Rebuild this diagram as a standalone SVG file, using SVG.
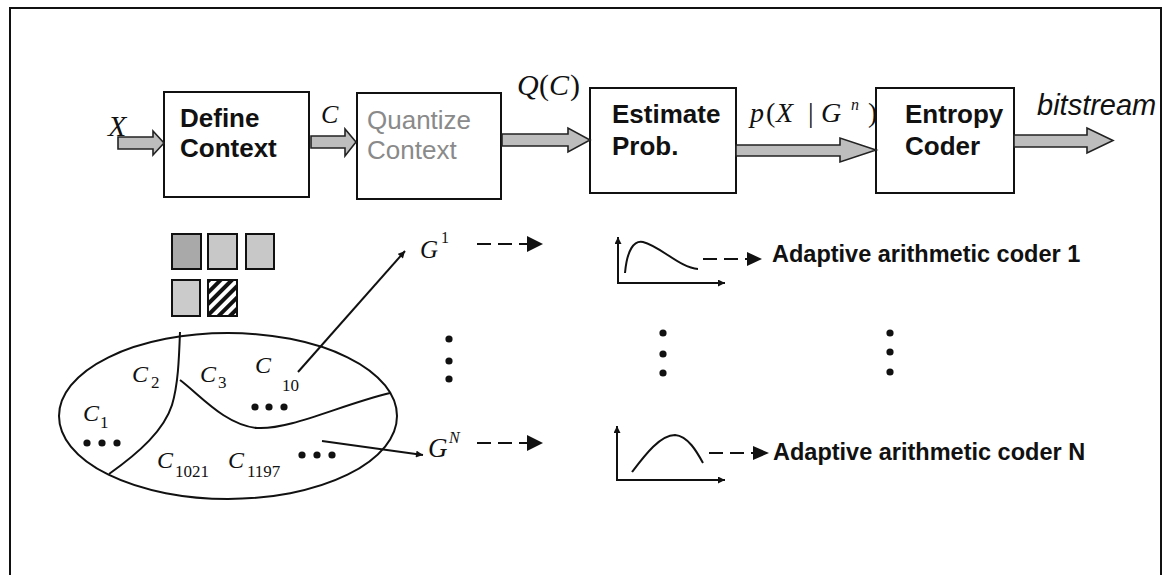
<svg xmlns="http://www.w3.org/2000/svg" width="1169" height="575" viewBox="0 0 1169 575">
<style>
.box{fill:#fff;stroke:#111;stroke-width:2}
.blk{fill:#bdbdbd;stroke:#222;stroke-width:1.6;stroke-linejoin:miter}
.bt{font-family:"Liberation Sans",Arial,sans-serif;font-weight:bold;font-size:26px;fill:#111}
.gt{font-family:"Liberation Sans",Arial,sans-serif;font-size:26px;fill:#8a8a8a}
.m{font-family:"Liberation Serif","Times New Roman",serif;font-style:italic;fill:#111}
.u{font-family:"Liberation Serif","Times New Roman",serif;fill:#111}
.ln{fill:none;stroke:#111;stroke-width:2}
.dash{fill:none;stroke:#111;stroke-width:2;stroke-dasharray:14 7}
.ac{font-family:"Liberation Sans",Arial,sans-serif;font-weight:bold;font-size:23.5px;fill:#111}
.dot{fill:#111}
</style>
<defs>
<marker id="ah" viewBox="0 0 10 10" refX="10" refY="5" markerWidth="8" markerHeight="7" markerUnits="userSpaceOnUse" orient="auto"><path d="M0,0 L10,5 L0,10 Z" fill="#111"/></marker>
<pattern id="hatch" width="8" height="8" patternUnits="userSpaceOnUse" patternTransform="rotate(45)"><rect width="8" height="8" fill="#fff"/><rect width="4" height="8" fill="#111"/></pattern>
</defs>

<path d="M10,580 V8 H1161 V580" fill="none" stroke="#111" stroke-width="2"/>

<g id="define-context"><rect class="box" x="164" y="92" width="145" height="105"/><text class="bt" x="180" y="127">Define</text><text class="bt" x="180" y="157">Context</text></g>
<g id="quantize-context"><rect class="box" x="357" y="93" width="144" height="106"/><text class="gt" x="367" y="129">Quantize</text><text class="gt" x="367" y="159">Context</text></g>
<g id="estimate-prob"><rect class="box" x="590" y="88" width="146" height="105"/><text class="bt" x="612" y="123">Estimate</text><text class="bt" x="612" y="155">Prob.</text></g>
<g id="entropy-coder"><rect class="box" x="876" y="88" width="138" height="105"/><text class="bt" x="905" y="123">Entropy</text><text class="bt" x="905" y="155">Coder</text></g>

<g id="connectors">
<path class="blk" d="M118,137 H153 V131 L164,143 L153,155 V149 H118 Z"/>
<path class="blk" d="M311,136 H345 V129 L356,142 L345,156 V148 H311 Z"/>
<path class="blk" d="M502,134 H568 V128 L590,140 L568,152 V146 H502 Z"/>
<path class="blk" d="M736,145 H840 V138 L876,150 L840,162 V156 H736 Z"/>
<path class="blk" d="M1014,135 H1087 V128 L1113,140.5 L1087,153 V147 H1014 Z"/>
<line class="ln" x1="298" y1="372" x2="405" y2="251" marker-end="url(#ah)"/>
<line class="ln" x1="322" y1="441" x2="423" y2="455" marker-end="url(#ah)"/>
<path d="M477,244 H528" class="dash"/><path d="M527,236 L543,244 L527,252 Z" fill="#111"/>
<path d="M477,443 H528" class="dash"/><path d="M527,435 L543,443 L527,451 Z" fill="#111"/>
</g>

<g id="labels">
<text class="m" x="108" y="136" font-size="30">X</text>
<text class="m" x="321" y="123" font-size="26">C</text>
<text x="517" y="95" font-size="30"><tspan class="m">Q</tspan><tspan class="u" x="539">(</tspan><tspan class="m" x="549">C</tspan><tspan class="u" x="570">)</tspan></text>
<text x="750" y="122" font-size="28"><tspan class="m">p</tspan><tspan class="u" x="766">(</tspan><tspan class="m" x="776">X</tspan><tspan class="u" x="808">|</tspan><tspan class="m" x="821">G</tspan><tspan class="m" x="851" y="110" font-size="16">n</tspan><tspan class="u" x="868" y="122">)</tspan></text>
<text x="1037" y="115" font-family="Liberation Sans,Arial,sans-serif" font-style="italic" font-size="29" fill="#111">bitstream</text>
</g>

<g id="context-squares">
<rect x="172" y="234" width="29" height="35" fill="#a9a9a9" stroke="#111" stroke-width="2"/>
<rect x="208" y="234" width="29" height="35" fill="#c8c8c8" stroke="#111" stroke-width="2"/>
<rect x="246" y="234" width="28" height="35" fill="#c8c8c8" stroke="#111" stroke-width="2"/>
<rect x="172" y="280" width="28" height="36" fill="#cbcbcb" stroke="#111" stroke-width="2"/>
<rect x="208" y="280" width="29" height="36" fill="url(#hatch)" stroke="#111" stroke-width="2"/>
</g>

<g id="context-set">
<ellipse class="ln" cx="228" cy="416" rx="169" ry="83"/>
<path class="ln" d="M180,332 C179,360 178,385 172,405 C164,430 140,452 109,474"/>
<path class="ln" d="M180,380 C200,395 225,425 257,428 C290,430 340,405 390,393"/>
<text class="m" x="132" y="382" font-size="24">C</text><text class="u" x="151" y="388" font-size="17">2</text>
<text class="m" x="200" y="382" font-size="24">C</text><text class="u" x="218" y="388" font-size="17">3</text>
<text class="m" x="255" y="373" font-size="24">C</text><text class="u" x="282" y="391" font-size="17">10</text>
<text class="m" x="83" y="421" font-size="24">C</text><text class="u" x="100" y="428" font-size="17">1</text>
<text class="m" x="157" y="468" font-size="24">C</text><text class="u" x="175" y="477" font-size="17">1021</text>
<text class="m" x="228" y="468" font-size="24">C</text><text class="u" x="247" y="477" font-size="17">1197</text>
<circle class="dot" cx="255" cy="407" r="3.6"/><circle class="dot" cx="269" cy="407" r="3.6"/><circle class="dot" cx="284" cy="407" r="3.6"/>
<circle class="dot" cx="87" cy="443" r="3.6"/><circle class="dot" cx="102" cy="443" r="3.6"/><circle class="dot" cx="117" cy="443" r="3.6"/>
<circle class="dot" cx="302" cy="455" r="3.6"/><circle class="dot" cx="317" cy="455" r="3.6"/><circle class="dot" cx="332" cy="455" r="3.6"/>
</g>

<g id="group-1"><text class="u" x="420" y="258" font-size="25"><tspan class="m">G</tspan></text><text class="u" x="441" y="243" font-size="16">1</text></g>
<g id="group-N"><text class="m" x="428" y="457" font-size="27">G</text><text class="m" x="449" y="443" font-size="16">N</text></g>

<g id="vdots">
<circle class="dot" cx="449" cy="339" r="3.6"/><circle class="dot" cx="449" cy="361" r="3.6"/><circle class="dot" cx="449" cy="379" r="3.6"/>
<circle class="dot" cx="663" cy="333" r="3.6"/><circle class="dot" cx="663" cy="354" r="3.6"/><circle class="dot" cx="663" cy="373" r="3.6"/>
<circle class="dot" cx="890" cy="333" r="3.6"/><circle class="dot" cx="890" cy="352" r="3.6"/><circle class="dot" cx="890" cy="372" r="3.6"/>
</g>

<g id="pdf-1">
<line class="ln" x1="618" y1="283" x2="618" y2="237" marker-end="url(#ah)"/>
<line class="ln" x1="617" y1="283" x2="725" y2="283" marker-end="url(#ah)"/>
<path class="ln" d="M625,273 C627,250 634,240 643,242 C660,246 680,268 698,269"/>
<path class="dash" d="M703,259 H747"/><path d="M747,252 L762,259 L747,266 Z" fill="#111"/>
<text class="ac" x="772" y="262">Adaptive arithmetic coder 1</text>
</g>

<g id="pdf-N">
<line class="ln" x1="617" y1="480" x2="617" y2="426" marker-end="url(#ah)"/>
<line class="ln" x1="616" y1="480" x2="725" y2="480" marker-end="url(#ah)"/>
<path class="ln" d="M632,472 C645,455 660,435 675,435 C688,436 697,452 703,463"/>
<path class="dash" d="M709,453 H753"/><path d="M753,446 L769,453 L753,460 Z" fill="#111"/>
<text class="ac" x="773" y="460">Adaptive arithmetic coder N</text>
</g>
</svg>
